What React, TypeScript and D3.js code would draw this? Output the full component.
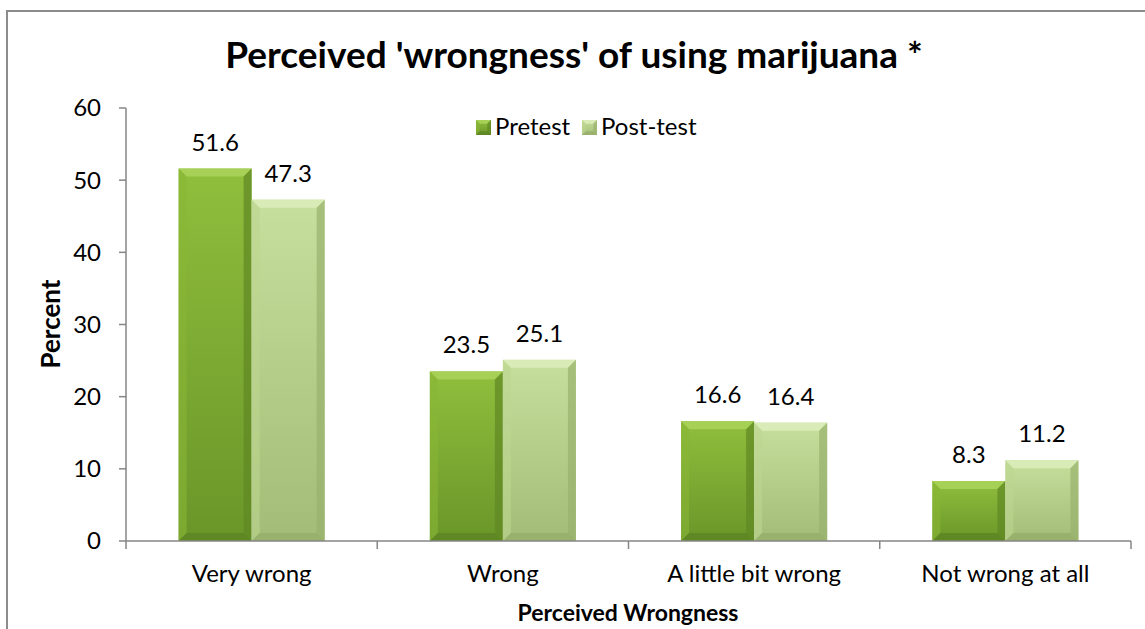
import React from "react";
import * as d3 from "d3";

const categories = ["Very wrong", "Wrong", "A little bit wrong", "Not wrong at all"];
const seriesNames = ["Pretest", "Post-test"];
const pretest = [51.6, 23.5, 16.6, 8.3];
const posttest = [47.3, 25.1, 16.4, 11.2];
const yTicks = [0, 10, 20, 30, 40, 50, 60];

const W = 1145;
const H = 629;
const FONT = "Lato, 'Open Sans', sans-serif";

const palettes = [
  { top: "#90be3c", bottom: "#6a9629", bevelTop: "#a6d056", bevelL: "#88b536", bevelR: "#5f8824", bevelB: "#5a8222" },
  { top: "#c6df9c", bottom: "#a3bd78", bevelTop: "#d9ecb8", bevelL: "#bcd690", bevelR: "#98b26d", bevelB: "#93ad68" },
];

function BevelBar({ x, y, w, h, i }: { x: number; y: number; w: number; h: number; i: number }) {
  const p = palettes[i];
  const b = Math.min(8, w / 4, h / 2);
  return (
    <g>
      <rect x={x} y={y} width={w} height={h} fill={`url(#grad${i})`} />
      <polygon points={`${x},${y} ${x + w},${y} ${x + w - b},${y + b} ${x + b},${y + b}`} fill={p.bevelTop} />
      <polygon points={`${x},${y} ${x + b},${y + b} ${x + b},${y + h - b} ${x},${y + h}`} fill={p.bevelL} opacity={0.6} />
      <polygon points={`${x + w},${y} ${x + w},${y + h} ${x + w - b},${y + h - b} ${x + w - b},${y + b}`} fill={p.bevelR} opacity={0.7} />
      <polygon points={`${x},${y + h} ${x + w},${y + h} ${x + w - b},${y + h - b} ${x + b},${y + h - b}`} fill={p.bevelB} opacity={0.7} />
    </g>
  );
}

export default function App() {
  const y = d3.scaleLinear().domain([0, 60]).range([541, 108]);
  const x0 = d3.scaleBand<string>().domain(categories).range([126, 1131]).paddingInner(0).paddingOuter(0);
  const x1 = d3.scaleBand<string>().domain(seriesNames).range([0, x0.bandwidth()]).paddingInner(0).paddingOuter(0.72);
  const series = [pretest, posttest];
  const axisColor = "#868686";
  const catTicks = [...categories.map((c) => x0(c) as number), 1131];

  return (
    <svg width={W} height={H} style={{ position: "absolute", left: 0, top: 0, background: "#fff" }} fontFamily={FONT}>
      <defs>
        {palettes.map((p, i) => (
          <linearGradient key={i} id={`grad${i}`} x1="0" y1="0" x2="0" y2="1">
            <stop offset="0" stopColor={p.top} />
            <stop offset="1" stopColor={p.bottom} />
          </linearGradient>
        ))}
      </defs>
      <rect x={7} y={11} width={W + 20} height={H + 20} fill="none" stroke="#8c8c8c" strokeWidth={2} />

      <text x={574} y={68} textAnchor="middle" fontSize={37} fontWeight="bold" fill="#000">
        Perceived 'wrongness' of using marijuana *
      </text>

      {/* y axis */}
      <line x1={126} x2={126} y1={y(60)} y2={y(0)} stroke={axisColor} strokeWidth={1.5} />
      {yTicks.map((t) => (
        <g key={t}>
          <line x1={119} x2={126} y1={y(t)} y2={y(t)} stroke={axisColor} strokeWidth={1.5} />
          <text x={101} y={y(t)} dy="0.35em" textAnchor="end" fontSize={24} fill="#000">
            {t}
          </text>
        </g>
      ))}

      {/* bars */}
      {categories.map((c, ci) => (
        <g key={c}>
          {series.map((s, si) => {
            const bx = (x0(c) as number) + (x1(seriesNames[si]) as number);
            const bw = x1.bandwidth();
            const by = y(s[ci]);
            return (
              <g key={si}>
                <BevelBar x={bx} y={by} w={bw} h={y(0) - by} i={si} />
                <text x={bx + bw / 2} y={by - 18} textAnchor="middle" fontSize={24} fill="#000">
                  {s[ci].toFixed(1)}
                </text>
              </g>
            );
          })}
        </g>
      ))}

      {/* x axis */}
      <line x1={126} x2={1131} y1={y(0)} y2={y(0)} stroke={axisColor} strokeWidth={1.5} />
      {catTicks.map((t, i) => (
        <line key={i} x1={t} x2={t} y1={y(0)} y2={y(0) + 8} stroke={axisColor} strokeWidth={1.5} />
      ))}
      {categories.map((c) => (
        <text key={c} x={(x0(c) as number) + x0.bandwidth() / 2} y={582} textAnchor="middle" fontSize={24} fill="#000">
          {c}
        </text>
      ))}

      <text x={628} y={621} textAnchor="middle" fontSize={23} fontWeight="bold" fill="#000">
        Perceived Wrongness
      </text>
      <text transform={`translate(60,324) rotate(-90)`} textAnchor="middle" fontSize={26} fontWeight="bold" fill="#000">
        Percent
      </text>

      {/* legend */}
      {seriesNames.map((n, i) => {
        const lx = [476, 582][i];
        return (
          <g key={n}>
            <BevelBar x={lx} y={120} w={15} h={15} i={i} />
            <text x={lx + 19} y={135} fontSize={24} fill="#000">
              {n}
            </text>
          </g>
        );
      })}
    </svg>
  );
}
